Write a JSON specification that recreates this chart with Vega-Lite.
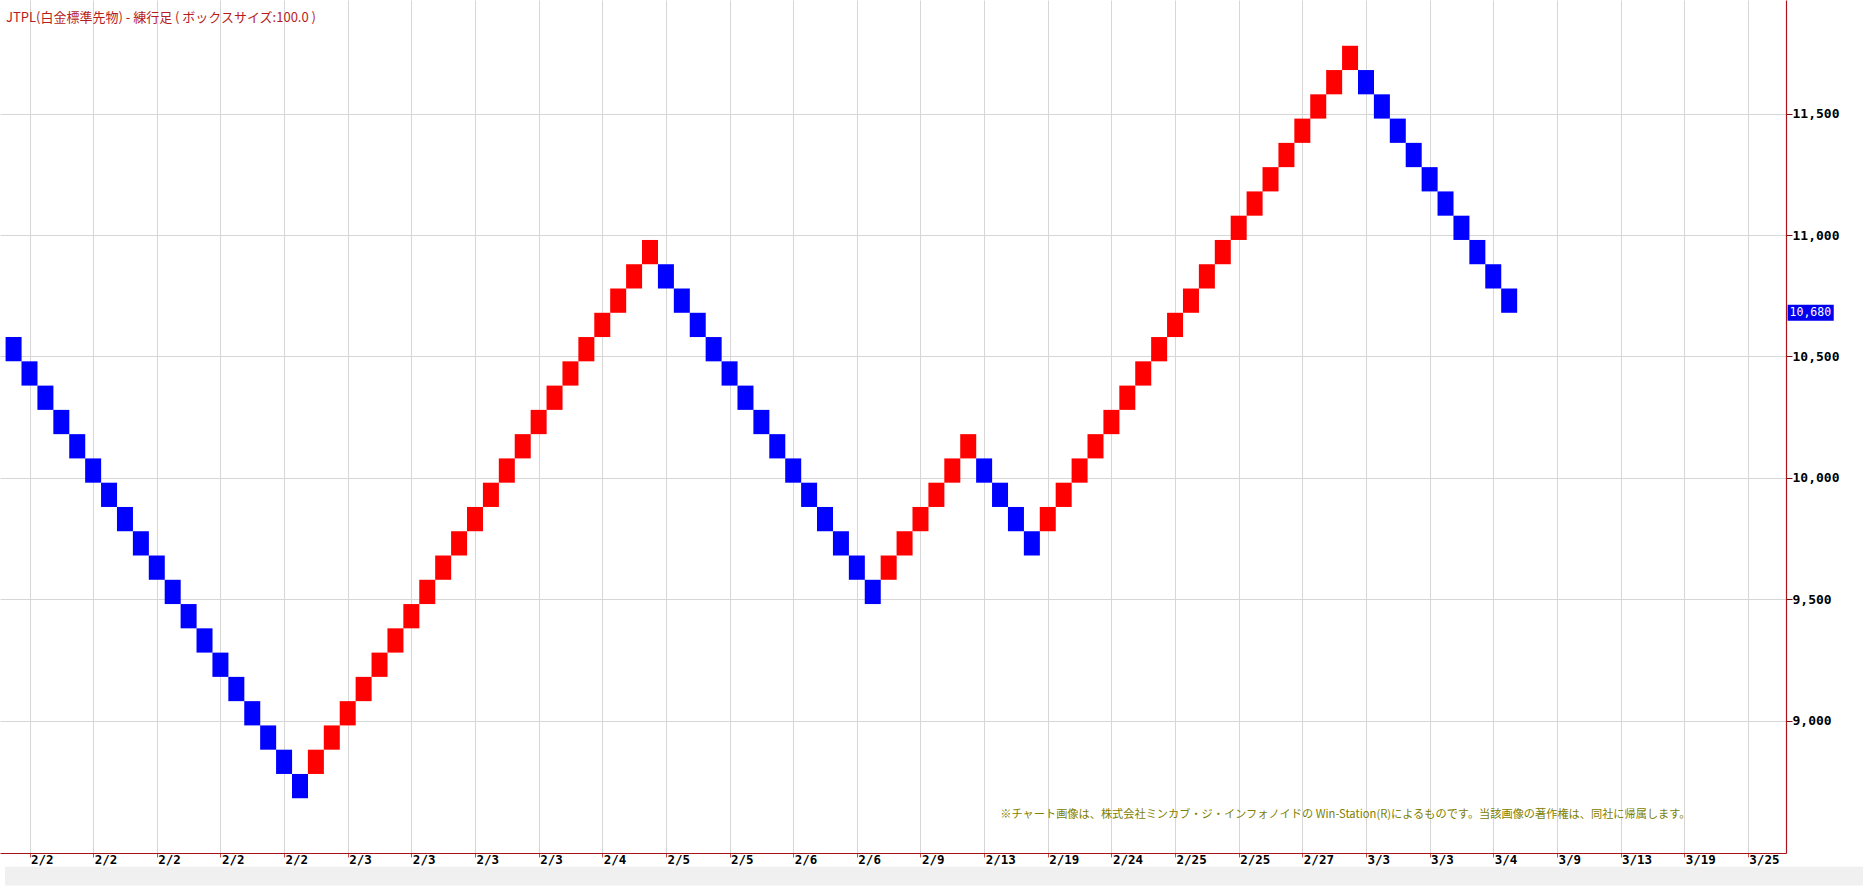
{
  "$schema": "https://vega.github.io/schema/vega-lite/v6.json",
  "width": 1786,
  "height": 853,
  "autosize": {"type": "none"},
  "padding": {"left": 0, "top": 0, "right": 77, "bottom": 34},
  "background": "white",
  "config": {"view": {"stroke": null}},
  "datasets": {
    "bricks": [
      {"col": 0, "low": 10480, "high": 10580, "dir": "down"},
      {"col": 1, "low": 10380, "high": 10480, "dir": "down"},
      {"col": 2, "low": 10280, "high": 10380, "dir": "down"},
      {"col": 3, "low": 10180, "high": 10280, "dir": "down"},
      {"col": 4, "low": 10080, "high": 10180, "dir": "down"},
      {"col": 5, "low": 9980, "high": 10080, "dir": "down"},
      {"col": 6, "low": 9880, "high": 9980, "dir": "down"},
      {"col": 7, "low": 9780, "high": 9880, "dir": "down"},
      {"col": 8, "low": 9680, "high": 9780, "dir": "down"},
      {"col": 9, "low": 9580, "high": 9680, "dir": "down"},
      {"col": 10, "low": 9480, "high": 9580, "dir": "down"},
      {"col": 11, "low": 9380, "high": 9480, "dir": "down"},
      {"col": 12, "low": 9280, "high": 9380, "dir": "down"},
      {"col": 13, "low": 9180, "high": 9280, "dir": "down"},
      {"col": 14, "low": 9080, "high": 9180, "dir": "down"},
      {"col": 15, "low": 8980, "high": 9080, "dir": "down"},
      {"col": 16, "low": 8880, "high": 8980, "dir": "down"},
      {"col": 17, "low": 8780, "high": 8880, "dir": "down"},
      {"col": 18, "low": 8680, "high": 8780, "dir": "down"},
      {"col": 19, "low": 8780, "high": 8880, "dir": "up"},
      {"col": 20, "low": 8880, "high": 8980, "dir": "up"},
      {"col": 21, "low": 8980, "high": 9080, "dir": "up"},
      {"col": 22, "low": 9080, "high": 9180, "dir": "up"},
      {"col": 23, "low": 9180, "high": 9280, "dir": "up"},
      {"col": 24, "low": 9280, "high": 9380, "dir": "up"},
      {"col": 25, "low": 9380, "high": 9480, "dir": "up"},
      {"col": 26, "low": 9480, "high": 9580, "dir": "up"},
      {"col": 27, "low": 9580, "high": 9680, "dir": "up"},
      {"col": 28, "low": 9680, "high": 9780, "dir": "up"},
      {"col": 29, "low": 9780, "high": 9880, "dir": "up"},
      {"col": 30, "low": 9880, "high": 9980, "dir": "up"},
      {"col": 31, "low": 9980, "high": 10080, "dir": "up"},
      {"col": 32, "low": 10080, "high": 10180, "dir": "up"},
      {"col": 33, "low": 10180, "high": 10280, "dir": "up"},
      {"col": 34, "low": 10280, "high": 10380, "dir": "up"},
      {"col": 35, "low": 10380, "high": 10480, "dir": "up"},
      {"col": 36, "low": 10480, "high": 10580, "dir": "up"},
      {"col": 37, "low": 10580, "high": 10680, "dir": "up"},
      {"col": 38, "low": 10680, "high": 10780, "dir": "up"},
      {"col": 39, "low": 10780, "high": 10880, "dir": "up"},
      {"col": 40, "low": 10880, "high": 10980, "dir": "up"},
      {"col": 41, "low": 10780, "high": 10880, "dir": "down"},
      {"col": 42, "low": 10680, "high": 10780, "dir": "down"},
      {"col": 43, "low": 10580, "high": 10680, "dir": "down"},
      {"col": 44, "low": 10480, "high": 10580, "dir": "down"},
      {"col": 45, "low": 10380, "high": 10480, "dir": "down"},
      {"col": 46, "low": 10280, "high": 10380, "dir": "down"},
      {"col": 47, "low": 10180, "high": 10280, "dir": "down"},
      {"col": 48, "low": 10080, "high": 10180, "dir": "down"},
      {"col": 49, "low": 9980, "high": 10080, "dir": "down"},
      {"col": 50, "low": 9880, "high": 9980, "dir": "down"},
      {"col": 51, "low": 9780, "high": 9880, "dir": "down"},
      {"col": 52, "low": 9680, "high": 9780, "dir": "down"},
      {"col": 53, "low": 9580, "high": 9680, "dir": "down"},
      {"col": 54, "low": 9480, "high": 9580, "dir": "down"},
      {"col": 55, "low": 9580, "high": 9680, "dir": "up"},
      {"col": 56, "low": 9680, "high": 9780, "dir": "up"},
      {"col": 57, "low": 9780, "high": 9880, "dir": "up"},
      {"col": 58, "low": 9880, "high": 9980, "dir": "up"},
      {"col": 59, "low": 9980, "high": 10080, "dir": "up"},
      {"col": 60, "low": 10080, "high": 10180, "dir": "up"},
      {"col": 61, "low": 9980, "high": 10080, "dir": "down"},
      {"col": 62, "low": 9880, "high": 9980, "dir": "down"},
      {"col": 63, "low": 9780, "high": 9880, "dir": "down"},
      {"col": 64, "low": 9680, "high": 9780, "dir": "down"},
      {"col": 65, "low": 9780, "high": 9880, "dir": "up"},
      {"col": 66, "low": 9880, "high": 9980, "dir": "up"},
      {"col": 67, "low": 9980, "high": 10080, "dir": "up"},
      {"col": 68, "low": 10080, "high": 10180, "dir": "up"},
      {"col": 69, "low": 10180, "high": 10280, "dir": "up"},
      {"col": 70, "low": 10280, "high": 10380, "dir": "up"},
      {"col": 71, "low": 10380, "high": 10480, "dir": "up"},
      {"col": 72, "low": 10480, "high": 10580, "dir": "up"},
      {"col": 73, "low": 10580, "high": 10680, "dir": "up"},
      {"col": 74, "low": 10680, "high": 10780, "dir": "up"},
      {"col": 75, "low": 10780, "high": 10880, "dir": "up"},
      {"col": 76, "low": 10880, "high": 10980, "dir": "up"},
      {"col": 77, "low": 10980, "high": 11080, "dir": "up"},
      {"col": 78, "low": 11080, "high": 11180, "dir": "up"},
      {"col": 79, "low": 11180, "high": 11280, "dir": "up"},
      {"col": 80, "low": 11280, "high": 11380, "dir": "up"},
      {"col": 81, "low": 11380, "high": 11480, "dir": "up"},
      {"col": 82, "low": 11480, "high": 11580, "dir": "up"},
      {"col": 83, "low": 11580, "high": 11680, "dir": "up"},
      {"col": 84, "low": 11680, "high": 11780, "dir": "up"},
      {"col": 85, "low": 11580, "high": 11680, "dir": "down"},
      {"col": 86, "low": 11480, "high": 11580, "dir": "down"},
      {"col": 87, "low": 11380, "high": 11480, "dir": "down"},
      {"col": 88, "low": 11280, "high": 11380, "dir": "down"},
      {"col": 89, "low": 11180, "high": 11280, "dir": "down"},
      {"col": 90, "low": 11080, "high": 11180, "dir": "down"},
      {"col": 91, "low": 10980, "high": 11080, "dir": "down"},
      {"col": 92, "low": 10880, "high": 10980, "dir": "down"},
      {"col": 93, "low": 10780, "high": 10880, "dir": "down"},
      {"col": 94, "low": 10680, "high": 10780, "dir": "down"}
    ],
    "ticks": [
      {"col": 1, "label": "2/2"}, {"col": 5, "label": "2/2"}, {"col": 9, "label": "2/2"},
      {"col": 13, "label": "2/2"}, {"col": 17, "label": "2/2"}, {"col": 21, "label": "2/3"},
      {"col": 25, "label": "2/3"}, {"col": 29, "label": "2/3"}, {"col": 33, "label": "2/3"},
      {"col": 37, "label": "2/4"}, {"col": 41, "label": "2/5"}, {"col": 45, "label": "2/5"},
      {"col": 49, "label": "2/6"}, {"col": 53, "label": "2/6"}, {"col": 57, "label": "2/9"},
      {"col": 61, "label": "2/13"}, {"col": 65, "label": "2/19"}, {"col": 69, "label": "2/24"},
      {"col": 73, "label": "2/25"}, {"col": 77, "label": "2/25"}, {"col": 81, "label": "2/27"},
      {"col": 85, "label": "3/3"}, {"col": 89, "label": "3/3"}, {"col": 93, "label": "3/4"},
      {"col": 97, "label": "3/9"}, {"col": 101, "label": "3/13"}, {"col": 105, "label": "3/19"},
      {"col": 109, "label": "3/25"}
    ],
    "last": [{"price": 10680, "label": "10,680"}]
  },
  "layer": [
    {
      "data": {"name": "bricks"},
      "mark": {"type": "bar", "width": 16},
      "encoding": {
        "x": {
          "field": "col", "type": "quantitative",
          "scale": {"domain": [-0.54, 111.085], "nice": false, "zero": false},
          "axis": {
            "orient": "bottom", "title": null, "labels": false,
            "values": [1,3,5,7,9,11,13,15,17,19,21,23,25,27,29,31,33,35,37,39,41,43,45,47,49,51,53,55,57,59,61,63,65,67,69,71,73,75,77,79,81,83,85,87,89,91,93,95,97,99,101,103,105,107,109],
            "grid": true, "gridColor": "#d6d6d6", "gridWidth": 1,
            "domainColor": "#a8141e", "domainWidth": 1.2,
            "tickColor": "#c05050", "tickSize": 4
          }
        },
        "y": {
          "field": "low", "type": "quantitative",
          "scale": {"domain": [8475, 11948], "nice": false, "zero": false},
          "axis": {
            "orient": "right", "title": null,
            "values": [9000, 9500, 10000, 10500, 11000, 11500],
            "labelExpr": "format(datum.value, ',')",
            "grid": true, "gridColor": "#d6d6d6", "gridWidth": 1,
            "domainColor": "#a8141e", "domainWidth": 1.2,
            "tickColor": "#7a1010", "tickSize": 6,
            "labelPadding": 0, "labelFont": "DejaVu Sans Mono", "labelFontWeight": "bold",
            "labelFontSize": 13, "labelColor": "#000000", "labelAlign": "left", "labelBaseline": "middle"
          }
        },
        "y2": {"field": "high"},
        "color": {
          "field": "dir", "type": "nominal",
          "scale": {"domain": ["up", "down"], "range": ["#ff0000", "#0000ff"]},
          "legend": null
        }
      }
    },
    {
      "data": {"values": [{}]},
      "mark": {"type": "rect", "color": "#f0f0f0"},
      "encoding": {
        "x": {"datum": -0.54, "type": "quantitative"},
        "x2": {"datum": 116.5},
        "y": {"datum": 8398, "type": "quantitative"},
        "y2": {"datum": 8320}
      }
    },
    {
      "data": {"name": "ticks"},
      "mark": {"type": "text", "align": "left", "baseline": "middle", "dx": 1.5, "dy": 12, "font": "DejaVu Sans Mono", "fontWeight": "bold", "fontSize": 12.5, "color": "#000000"},
      "encoding": {
        "x": {"field": "col", "type": "quantitative"},
        "y": {"datum": 8475, "type": "quantitative"},
        "text": {"field": "label"}
      }
    },
    {
      "data": {"name": "last"},
      "mark": {"type": "bar", "height": 16, "color": "#0000ee"},
      "encoding": {
        "x": {"datum": 111.5, "type": "quantitative"},
        "x2": {"datum": 114.4},
        "y": {"field": "price", "type": "quantitative"}
      }
    },
    {
      "data": {"name": "last"},
      "mark": {"type": "text", "align": "left", "baseline": "middle", "dx": 2, "font": "DejaVu Sans Mono", "fontSize": 11.5, "color": "#ffffff"},
      "encoding": {
        "x": {"datum": 111.5, "type": "quantitative"},
        "y": {"field": "price", "type": "quantitative"},
        "text": {"field": "label"}
      }
    },
    {
      "data": {"values": [{}]},
      "mark": {"type": "text", "text": "JTPL(白金標準先物) - 練行足 ( ボックスサイズ:100.0 )", "align": "left", "baseline": "middle", "dx": 1, "dy": 13, "font": "Noto Sans CJK JP", "fontSize": 13, "color": "#b71c1c"},
      "encoding": {
        "x": {"datum": -0.54, "type": "quantitative"},
        "y": {"datum": 11948, "type": "quantitative"}
      }
    },
    {
      "data": {"values": [{}]},
      "mark": {"type": "text", "text": "※チャート画像は、株式会社ミンカブ・ジ・インフォノイドの Win-Station(R)によるものです。当該画像の著作権は、同社に帰属します。", "align": "left", "baseline": "middle", "font": "Noto Sans CJK JP", "fontSize": 11.2, "color": "#808000"},
      "encoding": {
        "x": {"datum": 62.02, "type": "quantitative"},
        "y": {"datum": 8613, "type": "quantitative"}
      }
    }
  ]
}
